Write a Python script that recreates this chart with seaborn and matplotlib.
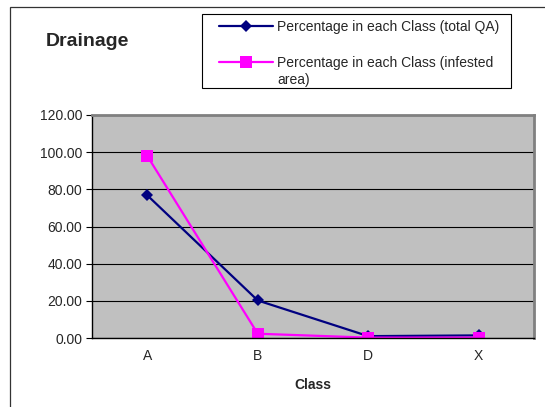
import matplotlib
matplotlib.use("Agg")
import matplotlib.pyplot as plt
from matplotlib.patches import Rectangle
import seaborn as sns
import pandas as pd

classes = ["A", "B", "D", "X"]
total_qa = [76.8, 20.2, 1.0, 1.4]
infested = [98.0, 2.3, 0.2, 0.2]
series_names = ["Percentage in each Class (total QA)",
                "Percentage in each Class (infested area)"]
y_ticks = [0, 20, 40, 60, 80, 100, 120]

sns.set_theme(style="white")
plt.rcParams["font.family"] = ["Liberation Sans", "DejaVu Sans"]

df = pd.DataFrame({
    "Class": classes * 2,
    "value": total_qa + infested,
    "series": [series_names[0]] * 4 + [series_names[1]] * 4,
})

W, H = 545, 407
fig = plt.figure(figsize=(W / 100, H / 100), dpi=100)
ax = fig.add_axes([92 / W, 1 - 338 / H, (534 - 92) / W, (338 - 115) / H])

# chart area border (runs off the right and bottom edges)
fig.patches.append(Rectangle((9.5 / W, -0.05), 1.0, 1 - 6.5 / H + 0.05,
                             transform=fig.transFigure, fill=False,
                             edgecolor="#333333", linewidth=0.9))
# legend frame
fig.patches.append(Rectangle((202 / W, 1 - 88 / H), (511 - 202) / W, (88 - 14) / H,
                             transform=fig.transFigure, fill=False,
                             edgecolor="black", linewidth=0.8))

ax.set_facecolor("#C0C0C0")
sns.lineplot(data=df, x="Class", y="value", hue="series", style="series",
             palette=["#000080", "#FF00FF"], markers=["D", "s"], dashes=False,
             markersize=7, linewidth=1.6, markeredgewidth=0, ax=ax, legend=False)
lines = ax.get_lines()[:2]
lines[0].set_markersize(6.5)
lines[1].set_markersize(8.5)

ax.set_xlim(-0.5, 3.5)
ax.set_ylim(0, 120)
ax.set_yticks(y_ticks)
ax.set_yticklabels([f"{v:.2f}" for v in y_ticks], fontsize=10)
ax.set_xticks(range(4))
ax.set_xticklabels(classes, fontsize=10)
ax.set_xticks([-0.5, 0.5, 1.5, 2.5, 3.5], minor=True)
ax.tick_params(axis="x", which="major", length=0, pad=8)
ax.tick_params(axis="x", which="minor", length=4, width=0.8, color="black", direction="out")
ax.tick_params(axis="y", length=4, width=0.8, color="black", direction="out", left=True, pad=3)
ax.grid(axis="y", color="black", linewidth=0.8)
ax.set_axisbelow(True)
for s in ["top", "right"]:
    ax.spines[s].set_color("#808080")
    ax.spines[s].set_linewidth(2)
for s in ["left", "bottom"]:
    ax.spines[s].set_color("black")
    ax.spines[s].set_linewidth(1)
ax.set_ylabel("")
ax.set_xlabel("Class", fontsize=10, fontweight="bold", labelpad=11)

fig.text(46 / W, 1 - 41 / H, "Drainage", fontsize=14, fontweight="bold",
         va="center", ha="left")

# legend entries; the second label wraps onto a line of its own
legend_labels = ["Percentage in each Class (total QA)",
                 "Percentage in each Class (infested"]
leg = fig.legend(lines, legend_labels, loc="upper left",
                 bbox_to_anchor=(219 / W, 1 - 20 / H), fontsize=10,
                 frameon=False, borderpad=0, labelspacing=1.58,
                 handlelength=3.9, handletextpad=0.3, borderaxespad=0)
fig.text(277 / W, 1 - 80 / H, "area)", fontsize=10, va="center", ha="left")

fig.savefig("out.png", dpi=100)
